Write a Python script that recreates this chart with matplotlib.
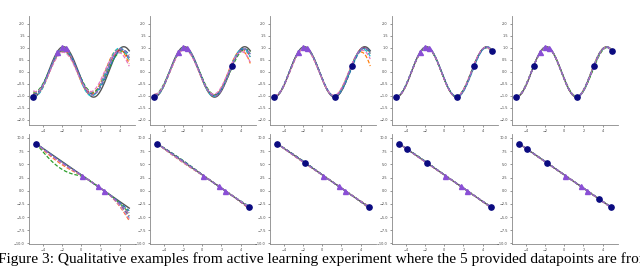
import numpy as np
import matplotlib.pyplot as plt

sine_amp = 1.05
sine_phase = 3.43
line_slope = -1.26
line_icpt = 3.0

x_ticks = [-4, -2, 0, 2, 4]
sine_yticks = [-2.0, -1.5, -1.0, -0.5, 0.0, 0.5, 1.0, 1.5, 2.0]
line_yticks = [-10.0, -7.5, -5.0, -2.5, 0.0, 2.5, 5.0, 7.5, 10.0]

# context points (triangles) and actively picked points (circles)
sine_ctx_x = [-2.5, -2.0, -1.6]
line_ctx_x = [0.1, 1.7, 2.4]
sine_pick_x = [[-5.0], [-5.0, 3.1], [-5.0, 1.3, 3.1], [-5.0, 1.3, 3.1, 5.0],
               [-5.0, -3.2, 1.3, 3.1, 5.0]]
line_pick_x = [[-4.7], [-4.7, 4.9], [-4.7, -1.8, 4.9], [-4.7, -3.9, -1.8, 4.9],
               [-4.7, -3.9, -1.8, 3.6, 4.9]]

# sampled predictions, one value per dashed curve in each panel
sample_colors = ["#d62728", "#ff7f0e", "#2ca02c", "#17becf", "#1f77b4", "#e377c2", "#9467bd"]
sine_dk = [[0.06, 0.09, 0.03, 0.07, 0.02, 0.10, 0.05],
           [0.02, 0.03, -0.01, 0.02, 0.01, 0.03, 0.00],
           [0.01, 0.02, 0.00, 0.01, -0.01, 0.02, 0.01],
           [0.01, 0.00, 0.01, -0.01, 0.00, 0.01, 0.00],
           [0.00, 0.01, -0.01, 0.00, 0.01, 0.00, 0.00]]
sine_da = [[-0.15, -0.10, -0.20, -0.05, -0.12, -0.22, -0.08],
           [-0.08, -0.05, -0.10, -0.03, -0.06, -0.12, -0.04],
           [-0.04, -0.06, -0.02, -0.05, -0.03, -0.07, -0.02],
           [-0.03, -0.02, -0.04, -0.01, -0.03, -0.02, -0.01],
           [-0.02, -0.01, -0.03, -0.01, -0.02, -0.02, -0.01]]
sine_tail = [[0.0, 0.0, 0.0, 0.0, 0.0, 0.0, 0.0],
             [-0.10, -0.35, 0.0, -0.15, -0.05, -0.25, -0.10],
             [0.0, -0.50, -0.10, -0.15, -0.05, -0.20, -0.05],
             [0.0, 0.0, 0.0, 0.0, 0.0, 0.0, 0.0],
             [0.0, 0.0, 0.0, 0.0, 0.0, 0.0, 0.0]]
line_mid = [[-0.3, -0.6, -1.5, -0.2, -0.1, -0.4, -0.2],
            [0.10, -0.20, 0.20, -0.10, 0.15, -0.15, 0.05],
            [0.10, -0.10, 0.10, -0.05, 0.10, -0.10, 0.00],
            [0.05, -0.05, 0.10, 0.00, 0.05, -0.05, 0.00],
            [0.05, 0.00, -0.05, 0.05, 0.00, -0.05, 0.00]]
line_tail = [[-1.5, -2.4, -0.9, -1.8, -0.5, -2.1, -1.1],
             [0.20, -0.30, 0.15, 0.25, -0.10, 0.10, -0.20],
             [0.10, -0.20, 0.20, -0.10, 0.05, 0.15, -0.05],
             [0.10, -0.10, 0.05, 0.10, -0.05, 0.00, 0.05],
             [0.05, -0.05, 0.00, 0.05, 0.00, -0.05, 0.00]]

TRUTH = "#555555"
PICK = "#0a0a80"
CTX = "#8a4fd6"


def sine_truth(x):
    return sine_amp * np.sin(x + sine_phase)


def line_truth(x):
    return line_slope * x + line_icpt


fig = plt.figure(figsize=(6.4, 2.66), dpi=100)
W, H = 640.0, 266.0
lefts = [29, 150, 270, 392, 512]


def make_ax(left, top, bottom):
    return fig.add_axes([left / W, (H - bottom) / H, 106 / W, (bottom - top) / H])


def style(ax, yticks, ylim):
    ax.set_xlim(-5.45, 5.6)
    ax.set_ylim(*ylim)
    ax.set_xticks(x_ticks)
    ax.set_yticks(yticks)
    ax.tick_params(labelsize=2.5, length=1.5, width=0.4, pad=1.5, colors="#444444")
    for s in ["top", "right"]:
        ax.spines[s].set_visible(False)
    for s in ["left", "bottom"]:
        ax.spines[s].set_color("#888888")
        ax.spines[s].set_linewidth(0.6)


xs = np.linspace(-5.0, 5.0, 300)
xl = np.linspace(-4.75, 5.0, 300)
bump = np.where(xl < 0.2, np.sin(np.pi * np.clip((xl + 4.7) / 4.9, 0, 1)), 0.0)
ramp = np.clip((xl - 2.4) / 2.6, 0, None) ** 2
tail_s = np.clip((xs - 3.1) / 1.9, 0, 1) ** 2

for p in range(5):
    # sine task
    ax = make_ax(lefts[p], 16, 125)
    style(ax, sine_yticks, (-2.21, 2.33))
    ax.plot(xs, sine_truth(xs), color=TRUTH, lw=1.0, zorder=2)
    for i, c in enumerate(sample_colors):
        ys = sine_amp * (1 + sine_da[p][i]) * np.sin(xs + sine_phase + sine_dk[p][i] * (xs + 2.0))
        ys = ys + sine_tail[p][i] * tail_s
        ax.plot(xs, ys, color=c, lw=0.9, ls=(0, (3, 1.5)), zorder=3)
    ax.plot(sine_ctx_x, sine_truth(np.array(sine_ctx_x)), "^", color=CTX, ms=3.6, zorder=4)
    ax.plot(sine_pick_x[p], sine_truth(np.array(sine_pick_x[p])), "o", color=PICK, ms=3.8, zorder=5)

    # linear task
    ax = make_ax(lefts[p], 134, 244)
    style(ax, line_yticks, (-10.1, 10.75))
    ax.plot(xl, line_truth(xl), color=TRUTH, lw=1.0, zorder=2)
    for i, c in enumerate(sample_colors):
        ys = line_truth(xl) + line_mid[p][i] * bump + line_tail[p][i] * ramp
        ax.plot(xl, ys, color=c, lw=0.9, ls=(0, (3, 1.5)), zorder=3)
    ax.plot(line_ctx_x, line_truth(np.array(line_ctx_x)), "^", color=CTX, ms=3.6, zorder=4)
    ax.plot(line_pick_x[p], line_truth(np.array(line_pick_x[p])), "o", color=PICK, ms=3.8, zorder=5)

caption = ("Figure 3: Qualitative examples from active learning experiment "
           "where the 5 provided datapoints are from")
txt = fig.text(-2 / W, (H - 263) / H, caption, family="Liberation Serif",
               fontsize=10.5, ha="left", va="baseline", color="black")
# fit caption to the width it spans in the reference
fig.canvas.draw()
w = txt.get_window_extent().width
txt.set_fontsize(10.5 * 650.0 / w)

fig.savefig("out.png", dpi=100)
